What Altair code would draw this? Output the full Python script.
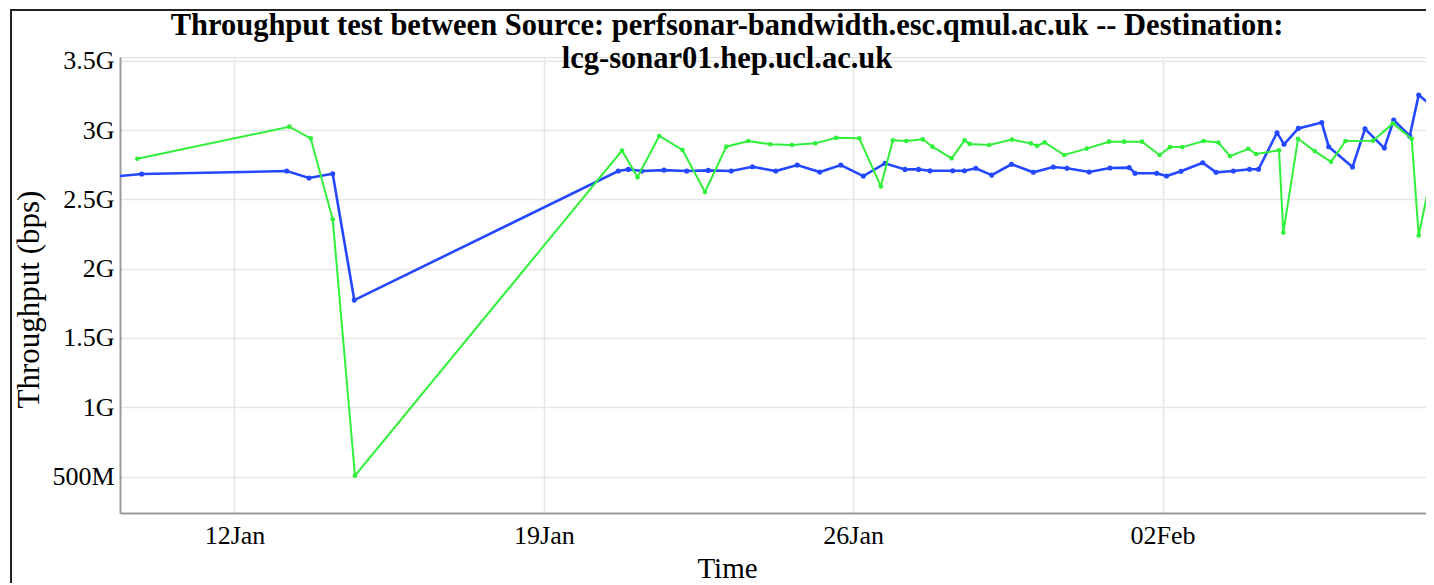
import altair as alt
import pandas as pd

title_lines = [
    "Throughput test between Source: perfsonar-bandwidth.esc.qmul.ac.uk -- Destination:",
    "lcg-sonar01.hep.ucl.ac.uk",
]

blue_time = ["2015-01-09T08:00","2015-01-09T21:36","2015-01-13T04:21","2015-01-13T16:28","2015-01-14T05:20",
             "2015-01-14T17:04","2015-01-20T16:26","2015-01-20T21:53","2015-01-21T05:09","2015-01-21T17:16",
             "2015-01-22T05:35","2015-01-22T17:19","2015-01-23T05:49","2015-01-23T17:20","2015-01-24T05:56",
             "2015-01-24T17:37","2015-01-25T05:49","2015-01-25T17:17","2015-01-26T05:31","2015-01-26T17:17",
             "2015-01-27T04:09","2015-01-27T11:29","2015-01-27T17:44","2015-01-28T06:04","2015-01-28T12:28",
             "2015-01-28T18:36","2015-01-29T03:14","2015-01-29T14:00","2015-01-30T01:50","2015-01-30T12:41",
             "2015-01-30T20:08","2015-01-31T08:11","2015-01-31T19:29","2015-02-01T05:55","2015-02-01T09:04",
             "2015-02-01T20:51","2015-02-02T02:11","2015-02-02T10:03","2015-02-02T21:50","2015-02-03T05:04",
             "2015-02-03T14:28","2015-02-03T23:15","2015-02-04T04:08","2015-02-04T14:11","2015-02-04T18:00",
             "2015-02-05T01:45","2015-02-05T14:28","2015-02-05T18:16","2015-02-06T07:11","2015-02-06T13:59",
             "2015-02-07T00:28","2015-02-07T05:34","2015-02-07T14:16","2015-02-07T19:08","2015-02-08T06:43"]
blue_gbps = [2.666,2.683,2.704,2.654,2.685,1.773,2.704,2.716,2.704,2.711,
             2.704,2.709,2.704,2.735,2.704,2.747,2.697,2.747,2.668,2.760,
             2.716,2.716,2.706,2.706,2.706,2.724,2.675,2.753,2.695,2.733,
             2.724,2.697,2.726,2.729,2.688,2.688,2.668,2.703,2.764,2.695,
             2.704,2.717,2.717,2.981,2.897,3.012,3.054,2.880,2.733,3.009,
             2.870,3.072,2.957,3.253,3.123]

green_time = ["2015-01-09T19:13","2015-01-13T05:46","2015-01-13T17:23","2015-01-14T05:20","2015-01-14T17:26",
              "2015-01-20T18:27","2015-01-21T02:52","2015-01-21T14:40","2015-01-22T03:19","2015-01-22T15:32",
              "2015-01-23T03:06","2015-01-23T15:03","2015-01-24T03:00","2015-01-24T14:47","2015-01-25T03:26",
              "2015-01-25T14:41","2015-01-26T03:20","2015-01-26T15:01","2015-01-26T21:32","2015-01-27T04:52",
              "2015-01-27T13:46","2015-01-27T18:59","2015-01-28T05:31","2015-01-28T12:28","2015-01-28T15:17",
              "2015-01-29T01:53","2015-01-29T14:16","2015-01-30T00:25","2015-01-30T03:50","2015-01-30T08:01",
              "2015-01-30T18:37","2015-01-31T06:50","2015-01-31T18:56","2015-02-01T03:12","2015-02-01T12:52",
              "2015-02-01T22:26","2015-02-02T04:05","2015-02-02T10:46","2015-02-02T22:23","2015-02-03T06:19",
              "2015-02-03T12:40","2015-02-03T22:36","2015-02-04T02:47","2015-02-04T15:17","2015-02-04T17:37",
              "2015-02-05T01:36","2015-02-05T10:40","2015-02-05T19:31","2015-02-06T03:23","2015-02-06T18:19",
              "2015-02-07T05:11","2015-02-07T15:20","2015-02-07T19:08","2015-02-08T06:43"]
green_gbps = [2.793,3.024,2.940,2.356,0.506,2.852,2.659,2.957,2.856,2.553,
              2.880,2.921,2.897,2.892,2.904,2.944,2.940,2.594,2.926,2.921,
              2.933,2.880,2.796,2.926,2.900,2.892,2.931,2.904,2.886,2.911,
              2.820,2.866,2.916,2.916,2.916,2.820,2.877,2.877,2.921,2.910,
              2.812,2.865,2.827,2.854,2.260,2.937,2.848,2.771,2.921,2.923,
              3.048,2.937,2.240,2.980]

y_ticks_gbps = [0.5, 1.0, 1.5, 2.0, 2.5, 3.0, 3.5]
x_tick_days = [(1, 12), (1, 19), (1, 26), (2, 2)]

blue_df = pd.DataFrame({"time": blue_time, "bps": [v * 1e9 for v in blue_gbps]})
green_df = pd.DataFrame({"time": green_time, "bps": [v * 1e9 for v in green_gbps]})

SERIF = "Liberation Serif"

x_enc = alt.X(
    "time:T",
    scale=alt.Scale(domain=[alt.DateTime(year=2015, month=1, date=9, hours=9, minutes=49),
                            alt.DateTime(year=2015, month=2, date=7, hours=23, minutes=6)]),
    axis=alt.Axis(
        title="Time",
        values=[alt.DateTime(year=2015, month=m, date=d) for m, d in x_tick_days],
        format="%d%b",
        ticks=False,
        labelPadding=9,
        labelFont=SERIF, labelFontSize=26, labelColor="black",
        titleFont=SERIF, titleFontSize=29, titleFontWeight="normal", titleColor="black",
        titleX=607, titleY=64, titleBaseline="alphabetic", titleAnchor="start", titleAlign="center",
        domainColor="#9a9a9a", domainWidth=2,
        gridColor="#e6e6e6", gridWidth=1.5,
    ),
)
y_enc = alt.Y(
    "bps:Q",
    scale=alt.Scale(domain=[0.237e9, 3.527e9], nice=False, zero=False),
    axis=alt.Axis(
        title="Throughput (bps)",
        values=[v * 1e9 for v in y_ticks_gbps],
        labelExpr="datum.value >= 1e9 ? format(datum.value / 1e9, '~g') + 'G' : format(datum.value / 1e6, '~g') + 'M'",
        ticks=False,
        labelPadding=6,
        labelFont=SERIF, labelFontSize=26, labelColor="black",
        titleFont=SERIF, titleFontSize=31, titleFontWeight="normal", titleColor="black",
        titleX=-91, titleY=242, titleAngle=270, titleAlign="center", titleBaseline="middle",
        titleAnchor="start",
        domainColor="#9a9a9a", domainWidth=2,
        gridColor="#e6e6e6", gridWidth=1.5,
    ),
)

BLUE = "#2448ff"
GREEN = "#30f03a"

blue_line = alt.Chart(blue_df).mark_line(color=BLUE, strokeWidth=2.6, clip=True).encode(x=x_enc, y=y_enc)
blue_pts = alt.Chart(blue_df).mark_circle(color=BLUE, size=26, opacity=1, clip=True).encode(x="time:T", y="bps:Q")
green_line = alt.Chart(green_df).mark_line(color=GREEN, strokeWidth=2.0, clip=True).encode(x="time:T", y="bps:Q")
green_pts = alt.Chart(green_df).mark_circle(color=GREEN, size=22, opacity=1, clip=True).encode(x="time:T", y="bps:Q")

frame = alt.Chart(alt.Data(values=[{"f": 1}])).mark_rect(
    fill=None, stroke="#222222", strokeWidth=2, clip=False
).encode(x=alt.value(-109), x2=alt.value(1500), y=alt.value(-47), y2=alt.value(700))

chart = alt.layer(blue_line, blue_pts, green_line, green_pts, frame).properties(
    width=1306,
    height=456,
    title=alt.TitleParams(
        text=title_lines,
        font=SERIF, fontSize=30.5, fontWeight="bold", color="black",
        anchor="middle", frame="group", dx=-46, lineHeight=33,
        baseline="alphabetic", offset=0, dy=89,
    ),
    autosize=alt.AutoSizeParams(type="none"),
    padding={"left": 112, "top": 49, "right": 0, "bottom": 70},
).configure_view(stroke=None).configure(background="white")

chart.save("out.html", embed_options={"renderer": "svg", "actions": False})
